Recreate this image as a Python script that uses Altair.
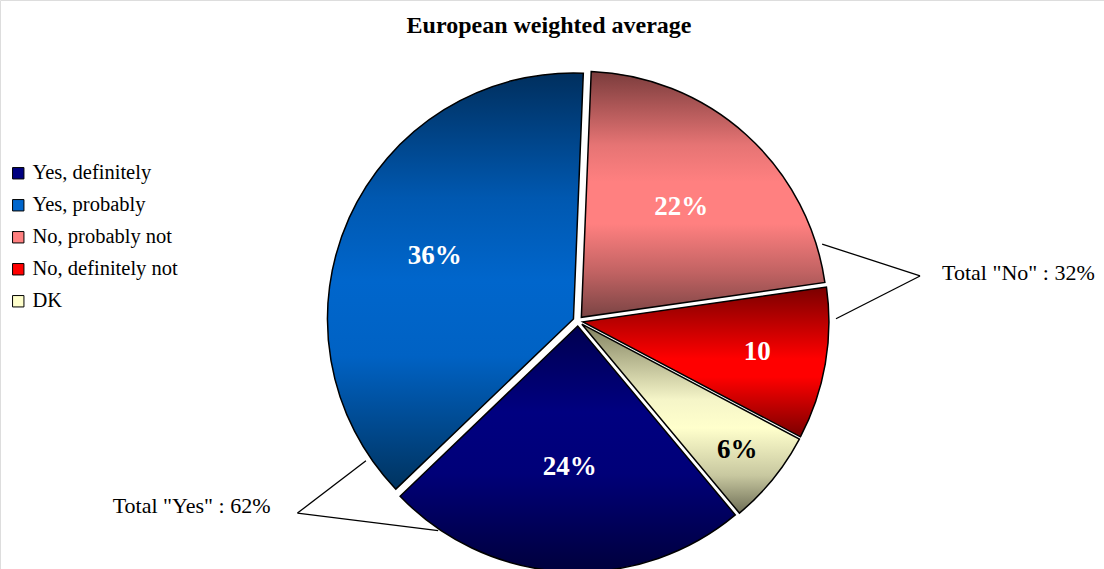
import math
import altair as alt
import pandas as pd

# ---- data ----
categories = ["No, probably not", "No, definitely not", "DK", "Yes, definitely", "Yes, probably"]
shares = [22.1, 10.0, 6.2, 23.9, 37.8]          # share of the pie
slice_labels = ["22%", "10", "6%", "24%", "36%"]
legend_order = ["Yes, definitely", "Yes, probably", "No, probably not", "No, definitely not", "DK"]
legend_colors = ["#000080", "#0066cc", "#ff8080", "#ff0000", "#ffffcc"]
total_texts = ['Total "No" : 32%', 'Total "Yes" : 62%']
title_text = "European weighted average"

# ---- geometry ----
W, H = 1104, 569
CX, CY, R = 578, 321, 246
EXPLODE = 5
START_DEG = 2.3
FONT = "Liberation Serif"
LABEL_R = {"22%": 154, "10": 182, "6%": 205, "24%": 146, "36%": 157}

gradients = {
    "No, probably not": [("#7a3c3c", 0), ("#e67474", 0.3), ("#ff8080", 0.45), ("#ff8080", 0.62),
                         ("#c06262", 0.82), ("#7a4444", 1)],
    "No, definitely not": [("#7a0000", 0), ("#ff0000", 0.48), ("#ff0000", 0.6), ("#7a0000", 1)],
    "DK": [("#80805f", 0), ("#f5f5c8", 0.4), ("#ffffcc", 0.55), ("#c8c8a0", 0.8), ("#6e6e56", 1)],
    "Yes, definitely": [("#000050", 0), ("#000080", 0.35), ("#000078", 0.6), ("#00003c", 1)],
    "Yes, probably": [("#002f5e", 0), ("#0058b0", 0.3), ("#0066cc", 0.5), ("#0062c4", 0.68),
                      ("#00335f", 1)],
}

total = sum(shares)
rows = []
cum = 0.0
for cat, s, lab in zip(categories, shares, slice_labels):
    a0 = START_DEG + cum / total * 360
    a1 = START_DEG + (cum + s) / total * 360
    mid = math.radians((a0 + a1) / 2)
    lr = LABEL_R[lab]
    rows.append({
        "cat": cat, "start": cum, "end": cum + s, "label": lab,
        "cx": CX + EXPLODE * math.sin(mid), "cy": CY - EXPLODE * math.cos(mid),
        "lx": CX + lr * math.sin(mid), "ly": CY - lr * math.cos(mid),
        "tcolor": "black" if cat == "DK" else "white",
    })
    cum += s
df = pd.DataFrame(rows)


def pt(deg, r):
    a = math.radians(deg)
    return CX + r * math.sin(a), CY - r * math.cos(a)


# leader lines (polar anchors on the pie edge and the apex)
leaders = []
for (d1, r1), (d2, r2) in [((72.5, 256), (82.5, 345)), ((89.5, 258), (82.5, 345)),
                           ((236.6, 254), (235.6, 340)), ((213.7, 252), (235.6, 340))]:
    x1, y1 = pt(d1, r1)
    x2, y2 = pt(d2, r2)
    leaders.append({"x": x1, "y": y1, "x2": x2, "y2": y2})
ldf = pd.DataFrame(leaders)

ax, ay = pt(82.5, 345)
bx, by = pt(235.6, 340)
tdf = pd.DataFrame([
    {"t": total_texts[0], "x": ax + 22, "y": ay - 3},
    {"t": total_texts[1], "x": bx - 27, "y": by - 7},
])

theta_scale = alt.Scale(domain=[0, total],
                        range=[math.radians(START_DEG), math.radians(START_DEG) + 2 * math.pi])

layers = []
for cat in categories:
    grad = alt.LinearGradient(
        gradient="linear",
        stops=[alt.GradientStop(color=c, offset=o) for c, o in gradients[cat]],
        x1=0, x2=0, y1=0, y2=1,
    )
    layers.append(
        alt.Chart(df).transform_filter(alt.datum.cat == cat)
        .mark_arc(outerRadius=R, fill=grad, stroke="black", strokeWidth=1.5)
        .encode(
            theta=alt.Theta("start:Q", scale=theta_scale, stack=False),
            theta2="end:Q",
            x=alt.X("cx:Q", scale=None),
            y=alt.Y("cy:Q", scale=None),
        )
    )

labels = alt.Chart(df).mark_text(font=FONT, fontSize=27, fontWeight="bold",
                                 align="center", baseline="middle").encode(
    x=alt.X("lx:Q", scale=None), y=alt.Y("ly:Q", scale=None),
    text="label:N", color=alt.Color("tcolor:N", scale=None),
)

rules = alt.Chart(ldf).mark_rule(color="black", strokeWidth=1.3).encode(
    x=alt.X("x:Q", scale=None), y=alt.Y("y:Q", scale=None),
    x2="x2:Q", y2="y2:Q",
)

totals_left = alt.Chart(tdf.iloc[[0]]).mark_text(font=FONT, fontSize=22, align="left",
                                                  baseline="middle", color="black").encode(
    x=alt.X("x:Q", scale=None), y=alt.Y("y:Q", scale=None), text="t:N")
totals_right = alt.Chart(tdf.iloc[[1]]).mark_text(font=FONT, fontSize=22, align="right",
                                                   baseline="middle", color="black").encode(
    x=alt.X("x:Q", scale=None), y=alt.Y("y:Q", scale=None), text="t:N")

title = alt.Chart(pd.DataFrame({"t": [title_text]})).mark_text(
    font=FONT, fontSize=24, fontWeight="bold", align="center", baseline="middle", color="black"
).encode(x=alt.value(549), y=alt.value(26), text="t:N")

legend_layer = alt.Chart(pd.DataFrame({"cat": legend_order})).mark_square(opacity=0).encode(
    x=alt.value(0), y=alt.value(0),
    color=alt.Color("cat:N", sort=legend_order,
                    scale=alt.Scale(domain=legend_order, range=legend_colors),
                    legend=alt.Legend(title=None, orient="none", legendX=8, legendY=163,
                                      symbolType="square", symbolSize=130,
                                      symbolStrokeColor="black", symbolStrokeWidth=1,
                                      symbolOpacity=1, labelFont=FONT, labelFontSize=20.5,
                                      labelColor="black", labelOffset=4, rowPadding=11,
                                      labelLimit=300)),
)

chart = alt.layer(*layers, rules, labels, totals_left, totals_right, title, legend_layer).properties(
    width=W, height=H, padding=0, autosize=alt.AutoSizeParams(type="none")
).configure_view(stroke=None).configure(background="white")

chart.save("out.html", embed_options={"renderer": "svg", "actions": False})
